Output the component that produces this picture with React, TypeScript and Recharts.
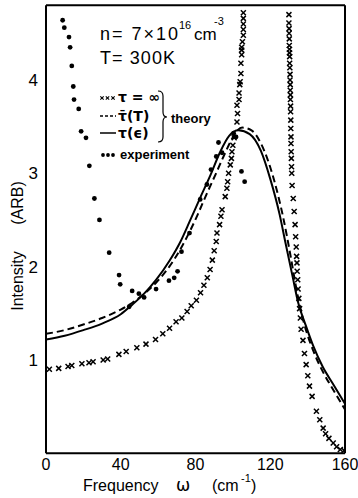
import React from 'react';
import { ComposedChart, Line, Scatter, XAxis, YAxis } from 'recharts';

const FONT = '"Liberation Sans", Arial, sans-serif';

const xTicks = [0, 20, 40, 60, 80, 100, 120, 140, 160];
const yTicks = [1, 2, 3, 4];

// tau(eps) theory, solid line
const solidCurve = [
  [0, 1.22], [10, 1.26], [20, 1.32], [30, 1.39], [40, 1.49], [46, 1.59],
  [52, 1.7], [59, 1.86], [66, 2.06], [72, 2.27], [77, 2.49], [83, 2.76],
  [88, 2.98], [93, 3.22], [98, 3.4], [103, 3.46], [109, 3.42], [115, 3.24],
  [120, 2.94], [125, 2.56], [128, 2.27], [132, 1.89], [135, 1.61], [139, 1.37],
  [143, 1.15], [148, 0.93], [154, 0.73], [160, 0.53],
];

// tau-bar(T) theory, dashed line
const dashedCurve = [
  [0, 1.28], [10, 1.32], [20, 1.38], [30, 1.45], [40, 1.54], [46, 1.61],
  [52, 1.7], [59, 1.83], [66, 2.0], [72, 2.19], [77, 2.38], [81, 2.55],
  [86, 2.78], [91, 3.0], [95, 3.18], [99, 3.35], [102, 3.45], [105, 3.49],
  [110, 3.46], [115, 3.32], [122, 2.93], [127, 2.52], [131, 2.1], [134, 1.76],
  [138, 1.4], [143, 1.1], [148, 0.88], [154, 0.67], [160, 0.47],
];

// tau = infinity theory, crosses
const tauInfinite = [
  [1.8, 0.9], [6.8, 0.91], [11.8, 0.93], [13.8, 0.94], [19.2, 0.96], [23.0, 0.97],
  [25.2, 0.98], [30.6, 1.0], [33.0, 1.01], [39.0, 1.06], [42.9, 1.09], [48.6, 1.13],
  [53.5, 1.17], [58.6, 1.22], [62.5, 1.28], [66.1, 1.34], [69.6, 1.41], [72.7, 1.45],
  [75.5, 1.52], [77.7, 1.58], [80.5, 1.64], [82.7, 1.72], [84.5, 1.8], [86.3, 1.88],
  [87.8, 1.97], [89.0, 2.07], [90.0, 2.17], [91.1, 2.27], [91.5, 2.36], [92.9, 2.45],
  [93.6, 2.54], [94.2, 2.61], [95.9, 2.75], [96.8, 2.84], [97.2, 2.91], [97.7, 3.0],
  [98.6, 3.09], [99.2, 3.16], [99.5, 3.23], [100.0, 3.3], [100.7, 3.38], [102.2, 3.55],
  [102.5, 3.64], [102.2, 3.73], [103.3, 3.79], [103.3, 3.86], [103.7, 3.95], [103.9, 3.98],
  [104.3, 4.07], [104.3, 4.18], [104.7, 4.27], [104.7, 4.32], [104.7, 4.35], [105.1, 4.41],
  [105.6, 4.48], [105.6, 4.54], [105.6, 4.6], [105.6, 4.66], [105.6, 4.72],
  [130.0, 4.7], [130.0, 4.61], [130.1, 4.55], [130.1, 4.5], [130.2, 4.44], [130.2, 4.37],
  [130.3, 4.33], [130.3, 4.29], [130.4, 4.25], [130.4, 4.18], [130.5, 4.13], [130.6, 4.06],
  [130.6, 4.0], [130.7, 3.95], [130.7, 3.89], [130.8, 3.84], [130.8, 3.79], [130.9, 3.72],
  [130.9, 3.66], [131.0, 3.57], [131.0, 3.48], [131.1, 3.39], [131.1, 3.32], [131.2, 3.23],
  [131.3, 3.16], [131.4, 3.07], [131.5, 3.0], [131.7, 2.87], [132.3, 2.73], [132.8, 2.59],
  [133.3, 2.45], [133.6, 2.32], [133.9, 2.21], [134.1, 2.11], [134.3, 2.04], [134.4, 1.95],
  [134.7, 1.86], [134.9, 1.76], [135.3, 1.66], [135.7, 1.55], [136.1, 1.45], [136.5, 1.33],
  [137.5, 1.21], [138.3, 1.07], [139.2, 0.95], [140.1, 0.83], [141.0, 0.72], [142.4, 0.61],
  [144.7, 0.45], [146.5, 0.36], [148.3, 0.27], [149.6, 0.21], [151.4, 0.16], [153.7, 0.11],
  [155.5, 0.07], [157.5, 0.04], [159.5, 0.03],
];

// measured points, filled dots
const experiment = [
  [8.9, 4.64], [9.8, 4.56], [12.3, 4.46], [12.9, 4.35], [13.8, 4.15], [14.6, 3.93],
  [15.0, 3.79], [17.5, 3.69], [18.8, 3.45], [21.4, 3.38], [23.2, 3.08], [25.9, 2.73],
  [28.6, 2.5], [33.8, 2.15], [39.1, 1.91], [39.7, 1.81], [44.5, 1.57], [46.1, 1.74],
  [49.7, 1.71], [52.5, 1.67], [58.9, 1.76], [65.8, 1.85], [68.6, 1.88], [70.4, 1.95],
  [72.5, 2.16], [76.8, 2.36], [82.5, 2.72], [86.1, 2.88], [88.3, 3.04], [91.1, 3.18],
  [92.3, 3.33], [94.2, 3.22], [100.4, 3.43], [101.7, 3.39], [104.6, 3.02], [106.3, 2.91],
];

const toPoints = (arr: number[][]) => arr.map(([x, y]) => ({ x, y }));

const Cross = (props: any) => {
  const { cx, cy } = props;
  if (cx == null || cy == null) return <g />;
  const s = 2.5;
  return (
    <g stroke="#000" strokeWidth={1.5}>
      <line x1={cx - s} y1={cy - s} x2={cx + s} y2={cy + s} />
      <line x1={cx - s} y1={cy + s} x2={cx + s} y2={cy - s} />
    </g>
  );
};

const Dot = (props: any) => {
  const { cx, cy } = props;
  if (cx == null || cy == null) return <g />;
  return <circle cx={cx} cy={cy} r={2.4} fill="#000" />;
};

const Annotations = () => (
  <svg
    width={358}
    height={498}
    style={{ position: 'absolute', left: 0, top: 0, pointerEvents: 'none' }}
    fontFamily={FONT}
    fill="#000"
  >
    <text x={100} y={40} fontSize={18} textLength={78} lengthAdjust="spacing">n= 7×10</text>
    <text x={179} y={29} fontSize={11}>16</text>
    <text x={194} y={40} fontSize={17}>cm</text>
    <text x={214} y={25} fontSize={11}>-3</text>
    <text x={100} y={64} fontSize={18} textLength={75} lengthAdjust="spacing">T= 300K</text>

    {/* legend */}
    <g stroke="#000" strokeWidth={1.1}>
      {[102, 107.5, 113].map((x) => (
        <g key={x}>
          <line x1={x - 1.7} y1={96.3} x2={x + 1.7} y2={99.7} />
          <line x1={x - 1.7} y1={99.7} x2={x + 1.7} y2={96.3} />
        </g>
      ))}
    </g>
    <text x={118} y={102} fontSize={14} fontWeight="bold" fontFamily='"DejaVu Sans", sans-serif'>τ = ∞</text>
    <line x1={100} y1={116} x2={116} y2={116} stroke="#000" strokeWidth={1.5} strokeDasharray="3 2" />
    <text x={118} y={121} fontSize={14} fontWeight="bold" fontFamily='"DejaVu Sans", sans-serif'>τ̄(T)</text>
    <line x1={100} y1={133} x2={116} y2={133} stroke="#000" strokeWidth={1.5} />
    <text x={118} y={138} fontSize={14} fontWeight="bold" fontFamily='"DejaVu Sans", sans-serif'>τ(ϵ)</text>
    <path d="M158 91 Q163 91 163 96 L163 112 Q163 117 167 117 Q163 117 163 122 L163 137 Q163 142 158 142" fill="none" stroke="#000" strokeWidth={1.2} />
    <text x={171} y={123} fontSize={13} fontWeight="bold">theory</text>
    {[103, 108, 113].map((x) => (
      <circle key={x} cx={x} cy={155} r={1.9} fill="#000" />
    ))}
    <text x={120} y={159} fontSize={13} fontWeight="bold">experiment</text>

    {/* axis titles */}
    <text x={17} y={281} fontSize={16} textAnchor="middle" dominantBaseline="central" transform="rotate(-90 17 281)">Intensity</text>
    <text x={17} y={203} fontSize={16} textAnchor="middle" dominantBaseline="central" transform="rotate(-90 17 203)">(ARB)</text>
    <text x={83} y={491} fontSize={16}>Frequency</text>
    <text x={176} y={491} fontSize={17} fontFamily='"DejaVu Sans", sans-serif'>ω</text>
    <text x={212} y={491} fontSize={16}>(cm</text>
    <text x={241} y={482} fontSize={11}>-1</text>
    <text x={251} y={491} fontSize={16}>)</text>
  </svg>
);

export default function App() {
  const tickStyle = { fill: '#000', fontSize: 16, fontFamily: FONT };
  return (
    <div style={{ position: 'absolute', left: 0, top: 0, width: 358, height: 498, background: '#fff' }}>
      <ComposedChart
        width={358}
        height={498}
        margin={{ top: 5.3, right: 13, bottom: 14.7, left: 16 }}
      >
        <XAxis
          xAxisId={0}
          type="number"
          dataKey="x"
          domain={[0, 160]}
          ticks={xTicks}
          allowDataOverflow
          height={30}
          stroke="#000"
          axisLine={{ stroke: '#000', strokeWidth: 2 }}
          tickLine={false}
          tickSize={0}
          tickMargin={5}
          tick={tickStyle}
          interval={0}
          tickFormatter={(v: number) => (v % 40 === 0 ? String(v) : '')}
        />
        <XAxis
          xAxisId="bottomTicks"
          type="number"
          domain={[0, 160]}
          ticks={xTicks}
          allowDataOverflow
          mirror
          stroke="#000"
          axisLine={false}
          tick={false}
          tickSize={7}
          tickLine={{ stroke: '#000', strokeWidth: 1.5 }}
          interval={0}
        />
        <XAxis
          xAxisId="top"
          orientation="top"
          type="number"
          domain={[0, 160]}
          ticks={xTicks}
          allowDataOverflow
          mirror
          stroke="#000"
          axisLine={{ stroke: '#000', strokeWidth: 2 }}
          tick={false}
          tickSize={7}
          tickLine={{ stroke: '#000', strokeWidth: 1.5 }}
          interval={0}
        />
        <YAxis
          yAxisId={0}
          type="number"
          dataKey="y"
          domain={[0, 4.8]}
          ticks={yTicks}
          allowDataOverflow
          width={30}
          stroke="#000"
          axisLine={{ stroke: '#000', strokeWidth: 2 }}
          tickLine={false}
          tickSize={0}
          tickMargin={8}
          tick={{ ...tickStyle, fontSize: 17 }}
          interval={0}
        />
        <YAxis
          yAxisId="leftTicks"
          type="number"
          domain={[0, 4.8]}
          ticks={yTicks}
          allowDataOverflow
          mirror
          stroke="#000"
          axisLine={false}
          tick={false}
          tickSize={8}
          tickLine={{ stroke: '#000', strokeWidth: 1.5 }}
          interval={0}
        />
        <YAxis
          yAxisId="right"
          orientation="right"
          type="number"
          domain={[0, 4.8]}
          ticks={yTicks}
          allowDataOverflow
          mirror
          stroke="#000"
          axisLine={{ stroke: '#000', strokeWidth: 2 }}
          tick={false}
          tickSize={8}
          tickLine={{ stroke: '#000', strokeWidth: 1.5 }}
          interval={0}
        />
        <Line
          data={toPoints(dashedCurve)}
          dataKey="y"
          type="monotone"
          stroke="#000"
          strokeWidth={2}
          strokeDasharray="7 4"
          dot={false}
          activeDot={false}
          isAnimationActive={false}
        />
        <Line
          data={toPoints(solidCurve)}
          dataKey="y"
          type="monotone"
          stroke="#000"
          strokeWidth={2}
          dot={false}
          activeDot={false}
          isAnimationActive={false}
        />
        <Scatter data={toPoints(tauInfinite)} dataKey="y" shape={Cross} isAnimationActive={false} />
        <Scatter data={toPoints(experiment)} dataKey="y" shape={Dot} isAnimationActive={false} />
      </ComposedChart>
      <Annotations />
    </div>
  );
}
